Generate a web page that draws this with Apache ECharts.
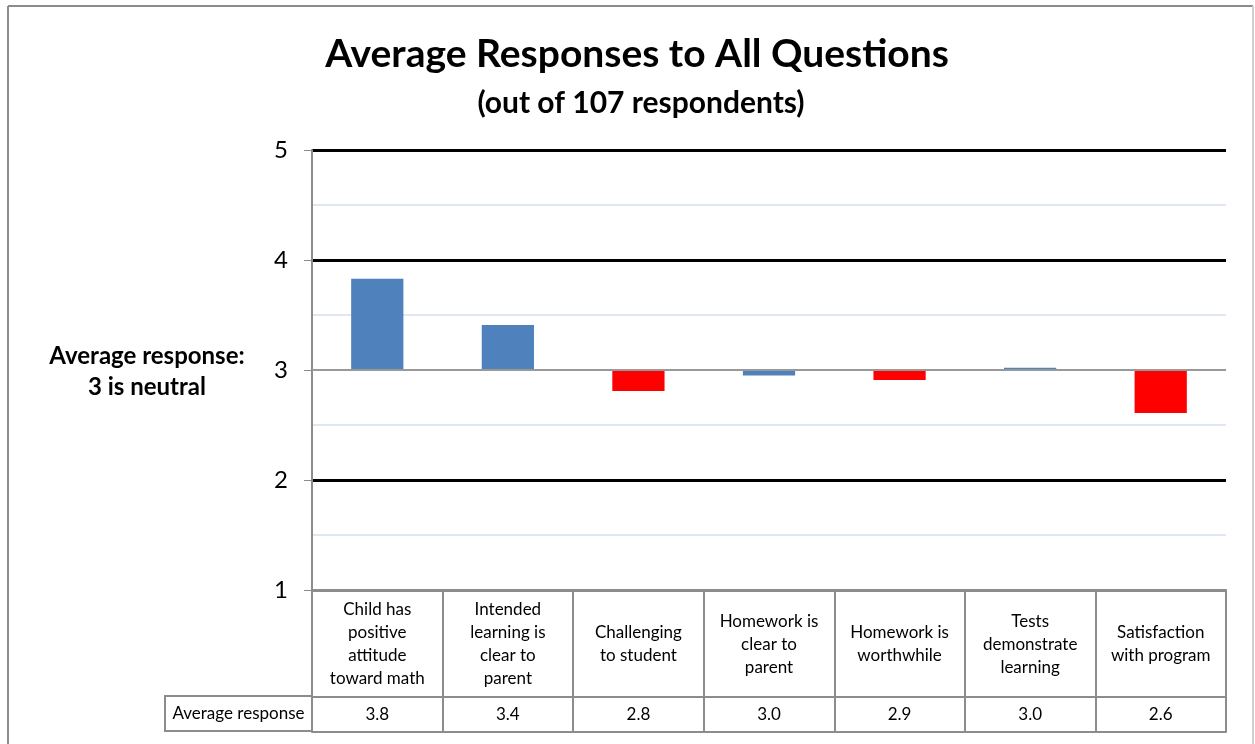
<!DOCTYPE html>
<html>
<head>
<meta charset="utf-8">
<title>Average Responses to All Questions</title>
<script src="https://cdn.jsdelivr.net/npm/echarts@6/dist/echarts.min.js"></script>
<style>
  html, body { margin: 0; padding: 0; background: #fff; }
  #chart { width: 1255px; height: 744px; }
</style>
</head>
<body>
<div id="chart"></div>
<script>
// Survey questions (tick labels for the category axis / data table header row)
const categories = [
  'Child has\npositive\nattitude\ntoward math',
  'Intended\nlearning is\nclear to\nparent',
  'Challenging\nto student',
  'Homework is\nclear to\nparent',
  'Homework is\nworthwhile',
  'Tests\ndemonstrate\nlearning',
  'Satisfaction\nwith program'
];
// Average response per question (1-5 scale)
const averages = [3.83, 3.41, 2.81, 2.95, 2.91, 3.02, 2.61];
// Value axis ticks and the neutral point the bars grow from
const yTicks = [1, 2, 3, 4, 5];
const neutral = 3;
const rowHeader = 'Average response';

const FONT = 'Lato, "Open Sans", sans-serif';
const BLUE = '#4f81bd';
const RED = '#ff0000';
const GRAY = '#8c8c8c';

const gridLeft = 312, gridRight = 29, gridTop = 150, gridBottom = 154;
const headRow = 107, valueRow = 35;

// Rounded value decides the colour: below neutral is red
function barColor(v) {
  return Number(v.toFixed(1)) < neutral ? RED : BLUE;
}

const chart = echarts.init(document.getElementById('chart'), null, { renderer: 'canvas' });

const option = {
  backgroundColor: '#fff',
  animation: false,
  title: [
    {
      text: 'Average Responses to All Questions',
      left: 632, top: 30, textAlign: 'center',
      textStyle: { fontFamily: FONT, fontWeight: 'bold', fontSize: 39, color: '#000' }
    },
    {
      text: '(out of 107 respondents)',
      left: 636, top: 83, textAlign: 'center',
      textStyle: { fontFamily: FONT, fontWeight: 'bold', fontSize: 30, color: '#000' }
    }
  ],
  grid: { left: gridLeft, right: gridRight, top: gridTop, bottom: gridBottom, containLabel: false },
  xAxis: [
    {
      type: 'category',
      data: categories,
      position: 'bottom',
      boundaryGap: true,
      axisLine: { show: true, lineStyle: { color: GRAY, width: 2 } },
      axisTick: { show: true, alignWithLabel: false, length: headRow, lineStyle: { color: GRAY, width: 2 } },
      axisLabel: {
        interval: 0, margin: headRow / 2 + 1, verticalAlign: 'middle',
        fontFamily: FONT, fontSize: 17, lineHeight: 23, color: '#000', align: 'center'
      },
      splitLine: { show: false }
    },
    {
      type: 'category',
      data: categories,
      position: 'bottom',
      offset: headRow,
      boundaryGap: true,
      axisLine: { show: true, lineStyle: { color: GRAY, width: 2 } },
      axisTick: { show: true, alignWithLabel: false, length: valueRow, lineStyle: { color: GRAY, width: 2 } },
      axisLabel: {
        interval: 0, margin: valueRow / 2, verticalAlign: 'middle',
        fontFamily: FONT, fontSize: 17, color: '#000',
        formatter: (val, idx) => averages[idx].toFixed(1)
      },
      splitLine: { show: false }
    },
    {
      type: 'category',
      data: categories,
      position: 'bottom',
      offset: headRow + valueRow,
      axisLine: { show: true, lineStyle: { color: GRAY, width: 2 } },
      axisTick: { show: false },
      axisLabel: { show: false },
      splitLine: { show: false }
    }
  ],
  yAxis: {
    type: 'value',
    min: yTicks[0],
    max: yTicks[yTicks.length - 1],
    interval: 1,
    axisLine: { show: true, lineStyle: { color: GRAY, width: 2 } },
    axisTick: { show: true, length: 8, lineStyle: { color: GRAY, width: 1 } },
    axisLabel: { fontFamily: FONT, fontSize: 24, color: '#000', margin: 24 },
    splitLine: {
      show: true,
      lineStyle: { color: yTicks.map(t => t === yTicks[0] ? GRAY : (t === neutral ? 'rgba(0,0,0,0)' : '#000')), width: 3 }
    },
    minorTick: { show: false, splitNumber: 2 },
    minorSplitLine: { show: true, lineStyle: { color: '#d5dff0', width: 1.5 } }
  },
  series: [
    {
      type: 'custom',
      xAxisIndex: 0,
      data: averages.map((v, i) => [i, v]),
      encode: { x: 0, y: 1 },
      renderItem: function (params, api) {
        const i = api.value(0);
        const v = api.value(1);
        const base = api.coord([i, neutral]);
        const end = api.coord([i, v]);
        const w = api.size([1, 0])[0] * 0.4;
        return {
          type: 'rect',
          z2: 5,
          shape: {
            x: base[0] - w / 2,
            y: Math.min(base[1], end[1]),
            width: w,
            height: Math.max(Math.abs(end[1] - base[1]), 1)
          },
          style: { fill: barColor(v) }
        };
      },
      markLine: {
        silent: true,
        symbol: 'none',
        label: { show: false },
        lineStyle: { color: '#999', width: 2, type: 'solid' },
        data: [{ yAxis: neutral }]
      }
    }
  ],
  graphic: [
    // outer chart border
    { type: 'line', shape: { x1: 8, y1: 6, x2: 1253, y2: 6 }, style: { stroke: GRAY, lineWidth: 2 } },
    { type: 'line', shape: { x1: 8, y1: 6, x2: 8, y2: 744 }, style: { stroke: GRAY, lineWidth: 2 } },
    { type: 'line', shape: { x1: 1253, y1: 6, x2: 1253, y2: 744 }, style: { stroke: '#d0d0d0', lineWidth: 2 } },
    // value axis caption
    {
      type: 'text', x: 147, y: 372,
      style: {
        text: 'Average response:\n3 is neutral',
        align: 'center', verticalAlign: 'middle',
        fontFamily: FONT, fontWeight: 'bold', fontSize: 24, lineHeight: 31, fill: '#000'
      }
    },
    // data table row header
    {
      type: 'group', x: 165, y: 744 - gridBottom + headRow - 1,
      children: [
        { type: 'rect', shape: { x: 0, y: 0, width: gridLeft - 165, height: valueRow }, style: { fill: '#fff', stroke: GRAY, lineWidth: 2 } },
        {
          type: 'text', x: (gridLeft - 165) / 2, y: valueRow / 2,
          style: { text: rowHeader, align: 'center', verticalAlign: 'middle', fontFamily: FONT, fontSize: 17, fill: '#000' }
        }
      ]
    }
  ]
};

chart.setOption(option);
</script>
</body>
</html>
